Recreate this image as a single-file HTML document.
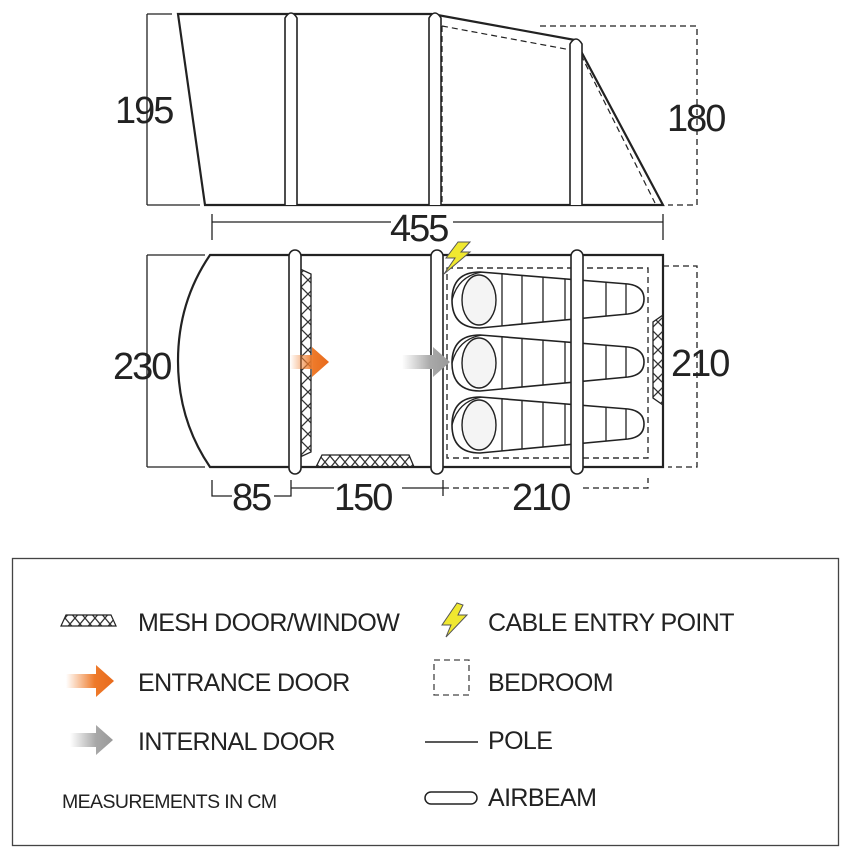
<!DOCTYPE html>
<html><head><meta charset="utf-8"><style>
html,body{margin:0;padding:0;background:#fff;}
svg{display:block;}
text{font-family:"Liberation Sans",sans-serif;fill:#222;}
</style></head><body>
<svg width="851" height="857" viewBox="0 0 851 857" xmlns="http://www.w3.org/2000/svg">
<defs>
<linearGradient id="og" x1="0" x2="1"><stop offset="0" stop-color="#f08030" stop-opacity="0"/><stop offset="0.6" stop-color="#ee7a2a"/><stop offset="1" stop-color="#e86a1c"/></linearGradient>
<linearGradient id="gg" x1="0" x2="1"><stop offset="0" stop-color="#aaa" stop-opacity="0"/><stop offset="0.6" stop-color="#a8a8a8"/><stop offset="1" stop-color="#999"/></linearGradient>
<pattern id="mv" width="14" height="14" patternUnits="userSpaceOnUse"><path d="M0 0L14 14M14 0L0 14" stroke="#333" stroke-width="1.3"/></pattern>
<pattern id="mh" width="10" height="12" patternUnits="userSpaceOnUse"><path d="M0 0L10 12M10 0L0 12" stroke="#333" stroke-width="1.3"/></pattern>
<clipPath id="bag"><path d="M480 272 L628 284 Q644 286 644 299 Q644 312 628 314 L480 328 Q452 328 452 300 Q452 272 480 272Z"/></clipPath>
<g id="sb">
<path d="M480 272 L628 284 Q644 286 644 299 Q644 312 628 314 L480 328 Q452 328 452 300 Q452 272 480 272Z" fill="#fff" stroke="#222" stroke-width="1.6"/>
<ellipse cx="479" cy="300" rx="17" ry="25" fill="#f4f4f4" stroke="#222" stroke-width="1.4"/>
<g clip-path="url(#bag)" stroke="#222" stroke-width="1.3">
<line x1="502" y1="260" x2="502" y2="340"/><line x1="522" y1="260" x2="522" y2="340"/><line x1="543" y1="260" x2="543" y2="340"/><line x1="565" y1="260" x2="565" y2="340"/><line x1="606" y1="260" x2="606" y2="340"/><line x1="626" y1="260" x2="626" y2="340"/>
<path d="M452 300 Q458 276 482 272" fill="none"/>
</g>
</g>
</defs>

<!-- SIDE VIEW -->
<g fill="none" stroke="#222">
<path d="M147 14H172M147 14V205M147 205H200" stroke-width="1.3"/>
<path d="M540 26H697V205H668" stroke-dasharray="6 4" stroke-width="1.3"/>
<path d="M178 14H432L575 40L663 205H205Z" fill="#fff" stroke-width="2.2"/>
<path d="M442 26L571 50V205M442 26V205M581 55L655 203" stroke-dasharray="6 4" stroke-width="1.2"/>
<line x1="212" y1="222" x2="663" y2="222" stroke-width="1.3"/>
<line x1="212" y1="214" x2="212" y2="240" stroke-width="1.3"/>
<line x1="663" y1="214" x2="663" y2="240" stroke-width="1.3"/>
</g>
<g fill="#fff" stroke="#222" stroke-width="1.6">
<path d="M285 205V18Q291 8 297 18V205"/>
<path d="M429 205V18Q435 8 441 18V205"/>
<path d="M570 205V44Q576 34 582 44V205"/>
</g>
<rect x="391" y="210" width="62" height="30" fill="#fff"/>
<text x="115" y="123" font-size="38" letter-spacing="-2">195</text>
<text x="667" y="131" font-size="38" letter-spacing="-2">180</text>
<text x="390" y="241" font-size="38" letter-spacing="-2">455</text>

<!-- FLOOR PLAN -->
<g fill="none" stroke="#222" stroke-width="1.3">
<path d="M147 255H205M147 255V467M147 467H205"/>
<path d="M663 266H697V467H668" stroke-dasharray="6 4"/>
<path d="M212 480V496H291V480M291 488H443M443 480V496" />
<path d="M443 488H648V478" stroke-dasharray="6 4"/>
</g>
<path d="M210 255H663V467H210Q178 420 178 361Q178 302 210 255Z" fill="#fff" stroke="#222" stroke-width="2.2"/>
<rect x="447" y="268" width="201" height="190" fill="none" stroke="#333" stroke-width="1.4" stroke-dasharray="6 4"/>
<!-- mesh -->
<path d="M298 268L311 274V452L298 458Z" fill="url(#mv)" stroke="#222" stroke-width="1.3"/>
<path d="M316 467L322 455H409L414 467Z" fill="url(#mh)" stroke="#222" stroke-width="1.3"/>
<path d="M663 315L653 322V398L663 405Z" fill="url(#mv)" stroke="#222" stroke-width="1.3"/>
<!-- bags -->
<use href="#sb"/>
<use href="#sb" transform="translate(0,63)"/>
<use href="#sb" transform="translate(0,125)"/>
<!-- poles -->
<g fill="#fff" stroke="#222" stroke-width="1.6">
<rect x="289" y="250" width="12" height="224" rx="6"/>
<rect x="431" y="250" width="12" height="224" rx="6"/>
<rect x="571" y="250" width="12" height="224" rx="6"/>
</g>
<!-- arrows -->
<path d="M290 355H312V347L329 362L312 377V369H290Z" fill="url(#og)"/>
<path d="M402 355H433V347L450 362L433 377V369H402Z" fill="url(#gg)"/>
<!-- lightning -->
<path d="M458 242L446 258H455L444 274L470 252H461L470 242Z" fill="#f0e830" stroke="#555" stroke-width="1"/>
<rect x="232" y="480" width="42" height="30" fill="#fff"/><rect x="334" y="480" width="68" height="30" fill="#fff"/><rect x="512" y="480" width="68" height="30" fill="#fff"/>
<text x="113" y="379" font-size="38" letter-spacing="-2">230</text>
<text x="671" y="376" font-size="38" letter-spacing="-2">210</text>
<text x="232" y="510" font-size="38" letter-spacing="-2">85</text>
<text x="334" y="510" font-size="38" letter-spacing="-2">150</text>
<text x="512" y="510" font-size="38" letter-spacing="-2">210</text>

<!-- LEGEND -->
<rect x="12.5" y="558.5" width="826" height="287" fill="none" stroke="#444" stroke-width="1.3"/>
<path d="M61 626L66 615H111L116 626Z" fill="url(#mh)" stroke="#222" stroke-width="1.2"/>
<path d="M66 674H96V665L114 681L96 697V688H66Z" fill="url(#og)"/>
<path d="M70 733H96V725L113 740L96 755V747H70Z" fill="url(#gg)"/>
<path d="M457 603L442 625H451L446 637L467 615H458L463 605Z" fill="#f0e830" stroke="#555" stroke-width="1"/>
<rect x="434" y="660" width="35" height="35" fill="none" stroke="#444" stroke-width="1.3" stroke-dasharray="6 4"/>
<line x1="425" y1="742" x2="478" y2="742" stroke="#222" stroke-width="1.5"/>
<rect x="425" y="792" width="52" height="12" rx="6" fill="none" stroke="#222" stroke-width="1.5"/>
<g font-size="25" letter-spacing="-0.6">
<text x="138" y="631">MESH DOOR/WINDOW</text>
<text x="138" y="691">ENTRANCE DOOR</text>
<text x="138" y="750">INTERNAL DOOR</text>
<text x="488" y="631">CABLE ENTRY POINT</text>
<text x="488" y="691">BEDROOM</text>
<text x="488" y="749">POLE</text>
<text x="488" y="806">AIRBEAM</text>
</g>
<text x="62" y="808" font-size="19.5" letter-spacing="-0.6">MEASUREMENTS IN CM</text>
</svg>
</body></html>
